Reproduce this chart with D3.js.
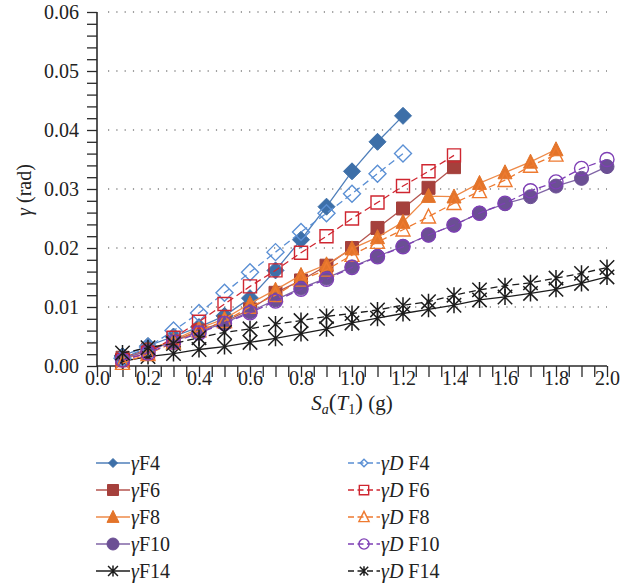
<!DOCTYPE html>
<html>
<head>
<meta charset="utf-8">
<script src="https://cdn.jsdelivr.net/npm/d3@7"></script>
<style>
  body { margin: 0; background: #fff; }
  svg { display: block; font-family: "Liberation Serif", "DejaVu Serif", serif; }
</style>
</head>
<body>
<div class="figure"></div>
<script>
// intensity levels Sa(T1) in g
let saLevels = [0.1, 0.2, 0.3, 0.4, 0.5, 0.6, 0.7, 0.8, 0.9, 1.0, 1.1, 1.2, 1.3, 1.4, 1.5, 1.6, 1.7, 1.8, 1.9, 2.0]

// inter-storey drift (rad)
let gF4 = [0.0017, 0.0034, 0.0050, 0.0066, 0.0085, 0.0115, 0.0162, 0.0214, 0.0270, 0.0330, 0.0380, 0.0424]
let gDF4 = [0.0013, 0.0032, 0.0060, 0.0090, 0.0124, 0.0159, 0.0193, 0.0227, 0.0259, 0.0292, 0.0326, 0.0360]
let gF6 = [0.0014, 0.0028, 0.0042, 0.0060, 0.0075, 0.0096, 0.0124, 0.0145, 0.0170, 0.0200, 0.0234, 0.0267, 0.0302, 0.0337]
let gDF6 = [0.0010, 0.0022, 0.0048, 0.0075, 0.0105, 0.0135, 0.0162, 0.0192, 0.0220, 0.0250, 0.0277, 0.0305, 0.0330, 0.0357]
let gF8 = [0.0010, 0.0027, 0.0044, 0.0064, 0.0080, 0.0106, 0.0129, 0.0154, 0.0172, 0.0199, 0.0218, 0.0244, 0.0288, 0.0287, 0.0310, 0.0328, 0.0346, 0.0367]
let gDF8 = [0.0005, 0.0020, 0.0040, 0.0060, 0.0076, 0.0100, 0.0120, 0.0146, 0.0163, 0.0188, 0.0210, 0.0231, 0.0253, 0.0276, 0.0296, 0.0315, 0.0339, 0.0358]
let gF10 = [0.0013, 0.0025, 0.0042, 0.0058, 0.0073, 0.0092, 0.0112, 0.0132, 0.0149, 0.0168, 0.0186, 0.0203, 0.0222, 0.0239, 0.0259, 0.0275, 0.0287, 0.0305, 0.0318, 0.0338]
let gDF10 = [0.0010, 0.0022, 0.0040, 0.0056, 0.0072, 0.0090, 0.0110, 0.0130, 0.0147, 0.0167, 0.0185, 0.0202, 0.0222, 0.0239, 0.0259, 0.0276, 0.0297, 0.0312, 0.0335, 0.0350]
let gF14 = [0.0008, 0.0016, 0.0021, 0.0028, 0.0033, 0.0040, 0.0047, 0.0055, 0.0063, 0.0073, 0.0081, 0.0089, 0.0096, 0.0103, 0.0112, 0.0117, 0.0123, 0.0130, 0.0140, 0.0151]
let gDF14 = [0.0022, 0.0031, 0.0038, 0.0048, 0.0057, 0.0063, 0.0071, 0.0077, 0.0084, 0.0089, 0.0095, 0.0103, 0.0109, 0.0120, 0.0129, 0.0136, 0.0141, 0.0149, 0.0157, 0.0167]

let xTickLabels = ["0.0", "0.2", "0.4", "0.6", "0.8", "1.0", "1.2", "1.4", "1.6", "1.8", "2.0"]
let yTickLabels = ["0.00", "0.01", "0.02", "0.03", "0.04", "0.05", "0.06"]

let series = [
    { name: "F4", values: gF4, dashed: false, symbol: "diamond", color: "#3d6fa8", line: "#4f7fba" },
    { name: "F6", values: gF6, dashed: false, symbol: "square", color: "#a5403c", line: "#b4554f" },
    { name: "F8", values: gF8, dashed: false, symbol: "triangle", color: "#e3742a", line: "#ee8a48" },
    { name: "F10", values: gF10, dashed: false, symbol: "circle", color: "#6b4f94", line: "#8065a6" },
    { name: "F14", values: gF14, dashed: false, symbol: "star", color: "#1c1c1c", line: "#1c1c1c" },
    { name: "F4", values: gDF4, dashed: true, symbol: "diamond", color: "#5a8fd4", line: "#5a8fd4" },
    { name: "F6", values: gDF6, dashed: true, symbol: "square", color: "#cf2630", line: "#cf2630" },
    { name: "F8", values: gDF8, dashed: true, symbol: "triangle", color: "#ee7a30", line: "#ee7a30" },
    { name: "F10", values: gDF10, dashed: true, symbol: "circle", color: "#7e3fb5", line: "#7e3fb5" },
    { name: "F14", values: gDF14, dashed: true, symbol: "star", color: "#1c1c1c", line: "#1c1c1c" }
]

const width = 638
const height = 584

const x = d3.scaleLinear().domain([0, 2]).range([97, 607])
const y = d3.scaleLinear().domain([0, 0.06]).range([366, 12])

const svg = d3.select(".figure").append("svg")
    .attr("width", width)
    .attr("height", height)

// dotted grid
svg.append("g")
    .selectAll("line")
    .data(yTickLabels.slice(1).map(Number))
    .join("line")
    .attr("x1", x(0) + 11)
    .attr("x2", x(2))
    .attr("y1", d => y(d))
    .attr("y2", d => y(d))
    .attr("stroke", "#444")
    .attr("stroke-width", 1.1)
    .attr("stroke-dasharray", "1.2,7.1")

// y axis, minor ticks every 0.002
const yAxis = d3.axisLeft(y)
    .tickValues(d3.range(0, 31).map(i => i * 0.002))
    .tickSize(10)
    .tickPadding(8)
    .tickFormat(d => {
        let i = Math.round(d * 1000)
        return i % 10 === 0 ? yTickLabels[i / 10] : ""
    })
svg.append("g")
    .attr("class", "yaxis")
    .attr("transform", `translate(${x(0)},0)`)
    .call(yAxis)
    .call(g => g.select(".domain").attr("d", `M0,${y(0.06)}V${y(0)}`))

// x axis, minor ticks every 0.05
const xAxis = d3.axisBottom(x)
    .tickValues(d3.range(0, 41).map(i => i * 0.05))
    .tickSize(11)
    .tickFormat(d => {
        let i = Math.round(d * 100)
        return i % 20 === 0 ? xTickLabels[i / 20] : ""
    })
svg.append("g")
    .attr("class", "xaxis")
    .attr("transform", `translate(0,${y(0)})`)
    .call(xAxis)
    .call(g => g.select(".domain").attr("d", `M${x(0)},0H${x(2)}`))

svg.selectAll(".tick line").attr("stroke", "#2a2a2a").attr("stroke-width", 1.3)
svg.selectAll(".domain").attr("stroke", "#2a2a2a").attr("stroke-width", 1.6)
svg.selectAll(".tick text")
    .attr("font-family", "Liberation Serif")
    .attr("font-size", 20)
    .attr("fill", "#222")
svg.selectAll(".xaxis .tick text")
    .attr("y", 13)
    .attr("dy", "0.32em")
svg.selectAll(".yaxis .tick text")
    .attr("dy", "0.34em")

// axis titles
const yTitle = svg.append("text")
    .attr("transform", `translate(31,190) rotate(-90)`)
    .attr("text-anchor", "middle")
    .attr("font-size", 20)
    .attr("fill", "#222")
yTitle.append("tspan").attr("font-style", "italic").text("γ")
yTitle.append("tspan").text(" (rad)")

const xTitle = svg.append("text")
    .attr("x", x(1.0))
    .attr("y", 410)
    .attr("text-anchor", "middle")
    .attr("font-size", 21)
    .attr("fill", "#222")
xTitle.append("tspan").attr("font-style", "italic").text("S")
xTitle.append("tspan").attr("font-style", "italic").attr("font-size", 14).attr("dy", 4).text("a")
xTitle.append("tspan").attr("dy", -4).attr("font-size", 23).text("(")
xTitle.append("tspan").attr("font-style", "italic").text("T")
xTitle.append("tspan").attr("font-size", 14).attr("dy", 4).text("1")
xTitle.append("tspan").attr("dy", -4).attr("font-size", 23).text(")")
xTitle.append("tspan").text(" (g)")

// markers
function markerPath(type, s) {
    if (type === "diamond") {
        return `M0,${-s}L${s},0L0,${s}L${-s},0Z`
    }
    if (type === "square") {
        return `M${-s},${-s}H${s}V${s}H${-s}Z`
    }
    if (type === "triangle") {
        return `M0,${-s * 1.1}L${s},${s * 0.9}L${-s},${s * 0.9}Z`
    }
    if (type === "circle") {
        return `M${s},0A${s},${s} 0 1,1 ${-s},0A${s},${s} 0 1,1 ${s},0Z`
    }
    // asterisk: vertical bar plus a cross
    let w = s * 0.9
    return `M0,${-s}V${s}M${-w},${-w}L${w},${w}M${-w},${w}L${w},${-w}`
}
let plotSize = { diamond: 8.5, square: 6.5, triangle: 7, circle: 7, star: 8 }
let legendSize = { diamond: 4.5, square: 5.5, triangle: 6, circle: 6, star: 5.5 }

const line = d3.line()
    .x((d, i) => x(saLevels[i]))
    .y(d => y(d))

function drawMarker(sel, s, type, size) {
    let filled = !s.dashed && type !== "star"
    sel.attr("d", markerPath(type, size))
        .attr("fill", filled ? s.color : "none")
        .attr("stroke", s.color)
        .attr("stroke-width", type === "star" ? 1.5 : (filled ? 1 : 1.4))
}

const plot = svg.append("g")
series.forEach(s => {
    let g = plot.append("g")
    g.append("path")
        .datum(s.values)
        .attr("d", line)
        .attr("fill", "none")
        .attr("stroke", s.line)
        .attr("stroke-width", 1.3)
        .attr("stroke-dasharray", s.dashed ? "7,4" : null)
    g.selectAll("path.pt")
        .data(s.values)
        .join("path")
        .attr("class", "pt")
        .attr("transform", (d, i) => `translate(${x(saLevels[i])},${y(d)})`)
        .call(sel => drawMarker(sel, s, s.symbol, plotSize[s.symbol]))
})

// legend
const legend = svg.append("g").attr("font-size", 20).attr("fill", "#222")
series.forEach((s, k) => {
    let row = k % 5
    let cy = 463 + row * 27
    let g = legend.append("g").attr("transform", `translate(0,${cy})`)
    if (!s.dashed) {
        g.append("line").attr("x1", 96).attr("x2", 130).attr("y1", 0).attr("y2", 0)
            .attr("stroke", s.line).attr("stroke-width", 1.5)
        g.append("path").attr("transform", "translate(113,0)")
            .call(sel => drawMarker(sel, s, s.symbol, legendSize[s.symbol]))
        let t = g.append("text").attr("x", 131).attr("y", 7)
        t.append("tspan").attr("font-style", "italic").text("γ")
        t.append("tspan").text(s.name)
    } else {
        g.append("line").attr("x1", 348).attr("x2", 380).attr("y1", 0).attr("y2", 0)
            .attr("stroke", s.line).attr("stroke-width", 1.5)
            .attr("stroke-dasharray", "6,3.5")
        g.append("path").attr("transform", "translate(364,0)")
            .call(sel => drawMarker(sel, s, s.symbol, legendSize[s.symbol] * 0.85))
        let t = g.append("text").attr("x", 381).attr("y", 7)
        t.append("tspan").attr("font-style", "italic").text("γD")
        t.append("tspan").text(" " + s.name)
    }
})
</script>
</body>
</html>
